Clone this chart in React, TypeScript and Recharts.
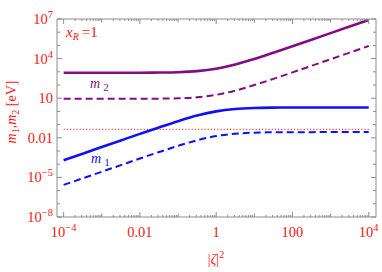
import { LineChart, Line, XAxis, YAxis, ReferenceLine } from "recharts";

// |zeta|^2 sample points (half-decade steps)
const zeta2 = [1e-4, 3.16e-4, 1e-3, 3.16e-3, 0.01, 0.0316, 0.1, 0.316, 1, 3.16, 10, 31.6, 100, 316, 1000, 3162, 1e4];
const m1Solid = [2.0e-4, 6.3e-4, 2.0e-3, 6.3e-3, 0.0198, 0.061, 0.18, 0.48, 1.0, 1.52, 1.82, 1.94, 1.98, 1.99, 2.0, 2.0, 2.0];
const m1Dashed = [2.7e-6, 8.5e-6, 2.7e-5, 8.5e-5, 2.7e-4, 8.3e-4, 2.45e-3, 6.5e-3, 0.0135, 0.0205, 0.0245, 0.0262, 0.0267, 0.0269, 0.027, 0.027, 0.027];
const m2Solid = [850, 850, 851, 853, 858, 877, 935, 1120, 1700, 3540, 9350, 27700, 85900, 269000, 851000, 2.69e6, 8.5e6];
const m2Dashed = [9, 9, 9, 9.03, 9.09, 9.28, 9.9, 11.8, 18, 37.4, 99, 293, 909, 2850, 9010, 28500, 90000];

const threshold = 0.044;

const xMajor = [1e-4, 0.01, 1, 100, 1e4];
const xLabels = ["10^-4", "0.01", "1", "100", "10^4"];
const yMajor = [1e-8, 1e-5, 0.01, 10, 1e4, 1e7];
const yLabels = ["10^-8", "10^-5", "0.01", "10", "10^4", "10^7"];

const data = zeta2.map((z, i) => ({
  z,
  m1s: m1Solid[i],
  m1d: m1Dashed[i],
  m2s: m2Solid[i],
  m2d: m2Dashed[i],
}));

const RED = "#f01818";
const PURPLE = "#850a85";
const BLUE = "#1010f5";
const GRAY = "#8c8c8c";
const FONT = "'Liberation Serif', 'DejaVu Serif', serif";

// minor ticks
const xMinor: number[] = [];
for (let k = -4; k < 4; k++) {
  for (let m = 2; m <= 10; m++) {
    const v = Number((m * 10 ** k).toPrecision(3));
    if (!xMajor.includes(v)) xMinor.push(v);
  }
}
const yMinor: number[] = [];
for (let k = -8; k < 7; k++) {
  const v = Number((10 ** k).toPrecision(3));
  if (!yMajor.includes(v)) yMinor.push(v);
}
const xTicks = [...xMajor, ...xMinor];
const yTicks = [...yMajor, ...yMinor];

const isDecade = (v: number) => Math.abs(Math.log10(v) - Math.round(Math.log10(v))) < 1e-6;

function tickLabel(label: string, x: number, y: number, anchor: "middle" | "end") {
  const [base, exp] = label.split("^");
  return (
    <text x={x} y={y} textAnchor={anchor} fill={RED} fontFamily={FONT} fontSize={14.5}>
      {base}
      {exp && (
        <tspan dy={-6} fontSize={10.5}>
          {exp.replace("-", "\u2212")}
        </tspan>
      )}
    </text>
  );
}

const BottomTick = (props: any) => {
  const { x, y, payload } = props;
  const i = xMajor.indexOf(payload.value);
  const len = i >= 0 ? 5 : isDecade(payload.value) ? 3.5 : 2;
  return (
    <g>
      <line x1={x} x2={x} y1={y} y2={y - len} stroke={GRAY} />
      {i >= 0 && tickLabel(xLabels[i], x, y + 20, "middle")}
    </g>
  );
};

const TopTick = (props: any) => {
  const { x, y, payload } = props;
  const len = xMajor.includes(payload.value) ? 5 : isDecade(payload.value) ? 3.5 : 2;
  return <line x1={x} x2={x} y1={y} y2={y + len} stroke={GRAY} />;
};

const LeftTick = (props: any) => {
  const { x, y, payload } = props;
  const i = yMajor.indexOf(payload.value);
  return (
    <g>
      <line x1={x} x2={x + (i >= 0 ? 5 : 3)} y1={y} y2={y} stroke={GRAY} />
      {i >= 0 && tickLabel(yLabels[i], x - 4, y + 5, "end")}
    </g>
  );
};

const RightTick = (props: any) => {
  const { x, y, payload } = props;
  const len = yMajor.includes(payload.value) ? 5 : 3;
  return <line x1={x} x2={x - len} y1={y} y2={y} stroke={GRAY} />;
};

export default function App() {
  return (
    <div style={{ position: "absolute", left: 0, top: 0, width: 382, height: 272 }}>
      <LineChart
        width={382}
        height={272}
        data={data}
        margin={{ top: 18, right: 5, bottom: 0, left: 0 }}
      >
        <XAxis
          xAxisId="b"
          dataKey="z"
          type="number"
          scale="log"
          domain={[6.7e-5, 1.55e4]}
          allowDataOverflow
          ticks={xTicks}
          interval={0}
          height={55}
          tickSize={0}
          tickMargin={0}
          tickLine={false}
          axisLine={{ stroke: GRAY }}
          tick={<BottomTick />}
        />
        <XAxis
          xAxisId="t"
          orientation="top"
          dataKey="z"
          type="number"
          scale="log"
          domain={[6.7e-5, 1.55e4]}
          allowDataOverflow
          ticks={xTicks}
          interval={0}
          height={1}
          tickSize={0}
          tickMargin={0}
          tickLine={false}
          axisLine={{ stroke: GRAY }}
          tick={<TopTick />}
        />
        <YAxis
          yAxisId="l"
          type="number"
          scale="log"
          domain={[1e-8, 1e7]}
          allowDataOverflow
          ticks={yTicks}
          interval={0}
          width={57}
          tickSize={0}
          tickMargin={0}
          tickLine={false}
          axisLine={{ stroke: GRAY }}
          tick={<LeftTick />}
        />
        <YAxis
          yAxisId="r"
          orientation="right"
          type="number"
          scale="log"
          domain={[1e-8, 1e7]}
          allowDataOverflow
          ticks={yTicks}
          interval={0}
          width={1}
          tickSize={0}
          tickMargin={0}
          tickLine={false}
          axisLine={{ stroke: GRAY }}
          tick={<RightTick />}
        />
        <ReferenceLine
          xAxisId="b"
          yAxisId="l"
          segment={[
            { x: zeta2[0], y: threshold },
            { x: zeta2[zeta2.length - 1], y: threshold },
          ]}
          stroke={RED}
          strokeWidth={1}
          strokeDasharray="1.2 2"
        />
        <Line xAxisId="b" yAxisId="l" dataKey="m2s" type="monotone" stroke={PURPLE} strokeWidth={2.6} dot={false} isAnimationActive={false} />
        <Line xAxisId="b" yAxisId="l" dataKey="m2d" type="monotone" stroke={PURPLE} strokeWidth={2} strokeDasharray="7 4" dot={false} isAnimationActive={false} />
        <Line xAxisId="b" yAxisId="l" dataKey="m1s" type="monotone" stroke={BLUE} strokeWidth={2.6} dot={false} isAnimationActive={false} />
        <Line xAxisId="b" yAxisId="l" dataKey="m1d" type="monotone" stroke={BLUE} strokeWidth={2} strokeDasharray="7 4" dot={false} isAnimationActive={false} />
      </LineChart>
      <svg
        width={382}
        height={272}
        style={{ position: "absolute", left: 0, top: 0, pointerEvents: "none" }}
        fontFamily={FONT}
      >
        <text x={66} y={37} fill={RED} fontSize={15}>
          <tspan fontStyle="italic">x</tspan>
          <tspan fontStyle="italic" fontSize={10} dy={3}>R</tspan>
          <tspan dy={-3}>{"\u2009=1"}</tspan>
        </text>
        <text x={90} y={88} fill={PURPLE} fontSize={14}>
          <tspan fontStyle="italic">m</tspan>
          <tspan fontSize={11} dx={3} dy={3}>2</tspan>
        </text>
        <text x={91} y={163} fill={BLUE} fontSize={14}>
          <tspan fontStyle="italic">m</tspan>
          <tspan fontSize={11} dx={3} dy={3}>1</tspan>
        </text>
        <text transform="translate(16,112) rotate(-90)" textAnchor="middle" fill={RED} fontSize={14}>
          <tspan fontStyle="italic">m</tspan>
          <tspan fontSize={10} dy={3}>1</tspan>
          <tspan dy={-3}>,</tspan>
          <tspan fontStyle="italic">m</tspan>
          <tspan fontSize={10} dy={3}>2</tspan>
          <tspan dy={-3}> [eV]</tspan>
        </text>
        <text x={216} y={264} textAnchor="middle" fill={RED} fontSize={14}>
          |<tspan fontStyle="italic">ζ</tspan>|<tspan fontSize={10} dy={-6}>2</tspan>
        </text>
      </svg>
    </div>
  );
}
